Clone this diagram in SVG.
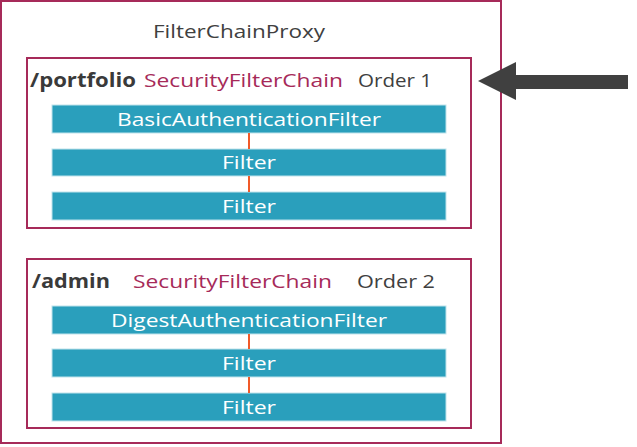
<svg xmlns="http://www.w3.org/2000/svg" width="637" height="447" viewBox="0 0 637 447">
<style>
.box{fill:none;stroke:#a62a59;stroke-width:2}
.bar{fill:#2a9fbc;stroke:#bfe3ec;stroke-width:1}
.bt{font-family:"Open Sans","Liberation Sans",sans-serif;font-size:18px;font-weight:500;fill:#fff;text-anchor:middle}
.hd{font-family:"Open Sans","Liberation Sans",sans-serif;font-size:19px;font-weight:500;fill:#404040}
.path{font-family:"Open Sans","Liberation Sans",sans-serif;font-size:19px;font-weight:bold;fill:#3a3a3a}
.sfc{font-family:"Open Sans","Liberation Sans",sans-serif;font-size:19px;font-weight:500;fill:#a62a59}
.link{stroke:#f15a29;stroke-width:2}
</style>
<rect width="637" height="447" fill="#fff"/>
<g id="proxy">
<rect class="box" x="1" y="1" width="500" height="442"/>
<text class="hd" x="239" y="38" text-anchor="middle" textLength="172" lengthAdjust="spacingAndGlyphs">FilterChainProxy</text>
</g>
<g id="chain1">
<rect class="box" x="27" y="58" width="444" height="170"/>
<text class="path" x="30" y="87" textLength="106" lengthAdjust="spacingAndGlyphs">/portfolio</text>
<text class="sfc" x="144" y="87" textLength="199" lengthAdjust="spacingAndGlyphs">SecurityFilterChain</text>
<text class="hd" x="358" y="87" textLength="74" lengthAdjust="spacingAndGlyphs">Order 1</text>
</g>
<g id="basic">
<rect class="bar" x="52" y="105" width="394" height="28"/>
<text class="bt" x="249" y="126" textLength="264" lengthAdjust="spacingAndGlyphs">BasicAuthenticationFilter</text>
</g>
<g id="filter1a">
<rect class="bar" x="52" y="149" width="394" height="27"/>
<text class="bt" x="249" y="169" textLength="54" lengthAdjust="spacingAndGlyphs">Filter</text>
</g>
<g id="filter1b">
<rect class="bar" x="52" y="192" width="394" height="28"/>
<text class="bt" x="249" y="213" textLength="54" lengthAdjust="spacingAndGlyphs">Filter</text>
</g>
<g id="chain2">
<rect class="box" x="27" y="259" width="444" height="169"/>
<text class="path" x="32" y="288" textLength="78" lengthAdjust="spacingAndGlyphs">/admin</text>
<text class="sfc" x="133" y="288" textLength="199" lengthAdjust="spacingAndGlyphs">SecurityFilterChain</text>
<text class="hd" x="357" y="288" textLength="78" lengthAdjust="spacingAndGlyphs">Order 2</text>
</g>
<g id="digest">
<rect class="bar" x="52" y="306" width="394" height="28"/>
<text class="bt" x="249" y="327" textLength="276" lengthAdjust="spacingAndGlyphs">DigestAuthenticationFilter</text>
</g>
<g id="filter2a">
<rect class="bar" x="52" y="349" width="394" height="28"/>
<text class="bt" x="249" y="370" textLength="54" lengthAdjust="spacingAndGlyphs">Filter</text>
</g>
<g id="filter2b">
<rect class="bar" x="52" y="393" width="394" height="28"/>
<text class="bt" x="249" y="414" textLength="54" lengthAdjust="spacingAndGlyphs">Filter</text>
</g>
<g id="connectors">
<line class="link" x1="249" y1="133" x2="249" y2="149"/>
<line class="link" x1="249" y1="176" x2="249" y2="192"/>
<line class="link" x1="249" y1="334" x2="249" y2="349"/>
<line class="link" x1="249" y1="377" x2="249" y2="393"/>
<polygon fill="#404040" points="478,81 516,62 516,75 628,75 628,89 516,89 516,100"/>
</g>
</svg>
